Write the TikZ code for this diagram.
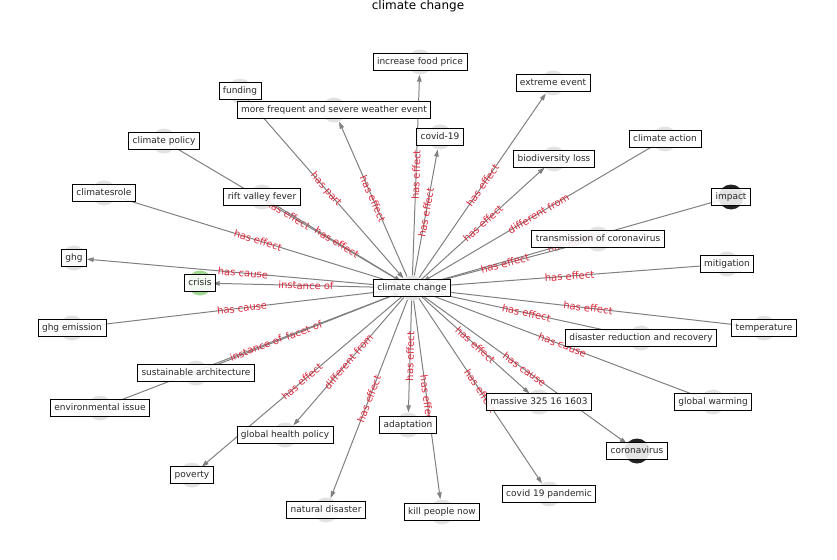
\documentclass[tikz,border=0pt]{standalone}
\usepackage{fontspec}
\setmainfont{DejaVu Sans}
\usetikzlibrary{arrows.meta}
\definecolor{edgegray}{RGB}{128,128,128}
\definecolor{dotgray}{RGB}{226,226,226}
\definecolor{dotdark}{RGB}{34,34,34}
\definecolor{dotgreen}{RGB}{160,216,144}
\definecolor{elab}{RGB}{220,40,60}
\definecolor{ntext}{RGB}{40,40,40}
\begin{document}
\begin{tikzpicture}[x=1pt,y=-1pt,
 dot/.style={circle,fill=dotgray,minimum size=25pt,inner sep=0pt},
 lbl/.style={draw=black,line width=0.8pt,fill=white,fill opacity=0.88,text opacity=1,text=ntext,font=\fontsize{9}{11}\selectfont,inner xsep=4pt,inner ysep=4pt,text height=7pt,text depth=2pt},
 edge/.style={draw=edgegray,line width=1pt},
 arr/.style={edge,-{Triangle[length=7pt,width=4.5pt]}},
 elbl/.style={font=\fontsize{10}{12}\selectfont,text=elab,sloped,midway,inner sep=0pt}]
\useasboundingbox (0,0) rectangle (837,559);
\node[anchor=base,font=\fontsize{12}{14}\selectfont] (title) at (418,10) {climate change};
% circles
\node[dot] (cc) at (412,288) {};
\node[dot] (ifp) at (420,62) {};
\node[dot] (fun) at (240,91) {};
\node[dot] (mfs) at (334,110) {};
\node[dot] (cpo) at (164,141) {};
\node[dot] (cov) at (440,137) {};
\node[dot] (ext) at (553,83) {};
\node[dot] (bio) at (554,159) {};
\node[dot] (cac) at (665,139) {};
\node[dot,fill=dotdark] (imp) at (731,197) {};
\node[dot] (cli) at (104,193) {};
\node[dot] (rvf) at (262,197) {};
\node[dot] (toc) at (598,239) {};
\node[dot] (mit) at (727,264) {};
\node[dot] (ghg) at (74,258) {};
\node[dot,fill=dotgreen] (cri) at (200,283) {};
\node[dot] (ghe) at (72,328) {};
\node[dot] (tem) at (764,328) {};
\node[dot] (drr) at (641,338) {};
\node[dot] (sa) at (196,373) {};
\node[dot] (ei) at (100,408) {};
\node[dot] (gw) at (713,402) {};
\node[dot] (mas) at (539,402) {};
\node[dot] (ada) at (408,425) {};
\node[dot] (ghp) at (285,435) {};
\node[dot,fill=dotdark] (cor) at (637,451) {};
\node[dot] (pov) at (192,475) {};
\node[dot] (c19) at (549,494) {};
\node[dot] (nat) at (326,510) {};
\node[dot] (kpn) at (442,512) {};
% edges
\draw[arr] (cc) -- node[elbl]{has effect} (ifp);
\draw[arr] (fun) -- node[elbl]{has part} (cc);
\draw[arr] (cc) -- node[elbl]{has effect} (mfs);
\draw[arr] (cpo) -- node[elbl]{has effect} (cc);
\draw[arr] (cc) -- node[elbl]{has effect} (cov);
\draw[arr] (cc) -- node[elbl]{has effect} (ext);
\draw[arr] (cc) -- node[elbl]{has effect} (bio);
\draw[arr] (cac) -- node[elbl]{different from} (cc);
\draw[arr] (imp) -- node[elbl]{has effect} (cc);
\draw[arr] (cli) -- node[elbl]{has effect} (cc);
\draw[arr] (rvf) -- node[elbl]{has effect} (cc);
\draw[arr] (toc) -- node[elbl]{has effect} (cc);
\draw[arr] (mit) -- node[elbl]{has effect} (cc);
\draw[arr] (cc) -- node[elbl]{has cause} (ghg);
\draw[arr] (cc) -- node[elbl]{instance of} (cri);
\draw[arr] (ghe) -- node[elbl]{has cause} (cc);
\draw[arr] (tem) -- node[elbl]{has effect} (cc);
\draw[arr] (drr) -- node[elbl]{has effect} (cc);
\draw[arr] (sa) -- node[elbl]{facet of} (cc);
\draw[arr] (ei) -- node[elbl]{instance of} (cc);
\draw[arr] (gw) -- node[elbl]{has cause} (cc);
\draw[arr] (cc) -- node[elbl]{has effect} (mas);
\draw[arr] (cc) -- node[elbl]{has effect} (ada);
\draw[arr] (cc) -- node[elbl]{different from} (ghp);
\draw[arr] (cc) -- node[elbl]{has cause} (cor);
\draw[arr] (cc) -- node[elbl]{has effect} (pov);
\draw[arr] (cc) -- node[elbl]{has effect} (c19);
\draw[arr] (cc) -- node[elbl]{has effect} (nat);
\draw[arr] (cc) -- node[elbl]{has effect} (kpn);
% label boxes
\node[lbl] (ccL) at (cc) {climate change};
\node[lbl] (ifpL) at (ifp) {increase food price};
\node[lbl] (funL) at (fun) {funding};
\node[lbl] (mfsL) at (mfs) {more frequent and severe weather event};
\node[lbl] (cpoL) at (cpo) {climate policy};
\node[lbl] (covL) at (cov) {covid-19};
\node[lbl] (extL) at (ext) {extreme event};
\node[lbl] (bioL) at (bio) {biodiversity loss};
\node[lbl] (cacL) at (cac) {climate action};
\node[lbl] (impL) at (imp) {impact};
\node[lbl] (cliL) at (cli) {climatesrole};
\node[lbl] (rvfL) at (rvf) {rift valley fever};
\node[lbl] (tocL) at (toc) {transmission of coronavirus};
\node[lbl] (mitL) at (mit) {mitigation};
\node[lbl] (ghgL) at (ghg) {ghg};
\node[lbl] (criL) at (cri) {crisis};
\node[lbl] (gheL) at (ghe) {ghg emission};
\node[lbl] (temL) at (tem) {temperature};
\node[lbl] (drrL) at (drr) {disaster reduction and recovery};
\node[lbl] (saL) at (sa) {sustainable architecture};
\node[lbl] (eiL) at (ei) {environmental issue};
\node[lbl] (gwL) at (gw) {global warming};
\node[lbl] (masL) at (mas) {massive 325 16 1603};
\node[lbl] (adaL) at (ada) {adaptation};
\node[lbl] (ghpL) at (ghp) {global health policy};
\node[lbl] (corL) at (cor) {coronavirus};
\node[lbl] (povL) at (pov) {poverty};
\node[lbl] (c19L) at (c19) {covid 19 pandemic};
\node[lbl] (natL) at (nat) {natural disaster};
\node[lbl] (kpnL) at (kpn) {kill people now};
\end{tikzpicture}
\end{document}
